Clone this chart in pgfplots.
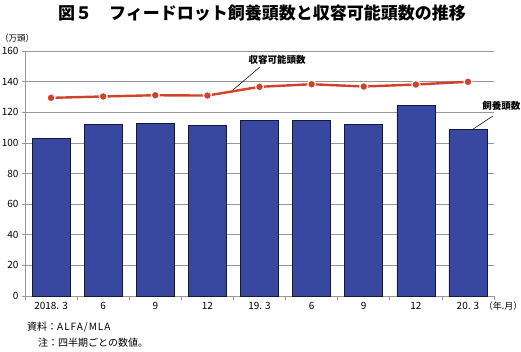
\documentclass[border=0pt]{standalone}
\usepackage{pgfplots}
\pgfplotsset{compat=1.18}
\usepackage{fontspec}
\setmainfont{Noto Sans CJK JP}
\definecolor{barblue}{RGB}{56,72,160}
\definecolor{baredge}{RGB}{20,25,60}
\definecolor{lred}{RGB}{208,66,42}
\definecolor{gridgray}{RGB}{150,150,150}
\begin{document}
\begin{tikzpicture}
\useasboundingbox (0,0) rectangle (521pt,352pt);
\node[font=\fontsize{17}{19}\selectfont\bfseries] at (262pt,339pt) {図５　フィードロット飼養頭数と収容可能頭数の推移};
\node[anchor=west, font=\fontsize{8.5}{10}\selectfont, inner sep=0pt] at (0pt,314pt) {（万頭）};
\begin{axis}[
 at={(25pt,56pt)}, anchor=south west,
 scale only axis, width=469pt, height=245pt,
 xmin=-0.5, xmax=8.5, ymin=0, ymax=160,
 clip=false,
 axis x line*=bottom, axis y line*=left,
 axis line style={gridgray, line width=0.6pt},
 ytick={0,20,...,160},
 ymajorgrids, grid style={gridgray, line width=0.6pt},
 xtick={0,...,8},
 xticklabels={2018. 3,6,9,12,19. 3,6,9,12,20. 3},
 minor xtick={-0.5,0.5,...,8.5},
 tick align=outside,
 major x tick style={draw=none},
 minor x tick style={gridgray, line width=0.6pt},
 y tick style={gridgray, line width=0.6pt},
 major tick length=3pt, minor tick length=4pt,
 tick label style={font=\fontsize{10}{11}\selectfont},
 /pgf/number format/assume math mode=true,
]
\addplot[ybar, bar width=0.73, fill=barblue, draw=baredge, line width=0.6pt]
 coordinates {(0,102.7) (1,111.9) (2,112.7) (3,111.2) (4,114.5) (5,114.9) (6,111.9) (7,124.4) (8,108.6)};
\addplot[lred, line width=2.4pt, mark=*, mark size=4pt, mark options={fill=lred, draw=white, line width=1.2pt}]
 coordinates {(0,129.4) (1,130.3) (2,131.1) (3,130.9) (4,136.6) (5,138.3) (6,136.8) (7,138.1) (8,139.9)};
\draw[black, line width=0.5pt] (axis cs:3.49,134.5) -- (axis cs:4.01,149.6);
\node[font=\fontsize{9.5}{11}\selectfont\bfseries] at (axis cs:4.34,154) {収容可能頭数};
\draw[black, line width=0.5pt] (axis cs:8.1,109) -- (axis cs:8.48,117.6);
\node[font=\fontsize{9.5}{11}\selectfont\bfseries] at (axis cs:8.64,124) {飼養頭数};
\end{axis}
\node[font=\fontsize{9}{11}\selectfont, inner sep=0pt] at (503pt,46pt) {（年.月）};
\node[anchor=west, font=\fontsize{10}{12}\selectfont, inner sep=0pt] at (27pt,25pt) {資料：{\addfontfeature{LetterSpace=10}ALFA/MLA}};
\node[anchor=west, font=\fontsize{10}{12}\selectfont, inner sep=0pt] at (38pt,9pt) {注：四半期ごとの数値。};
\end{tikzpicture}
\end{document}
